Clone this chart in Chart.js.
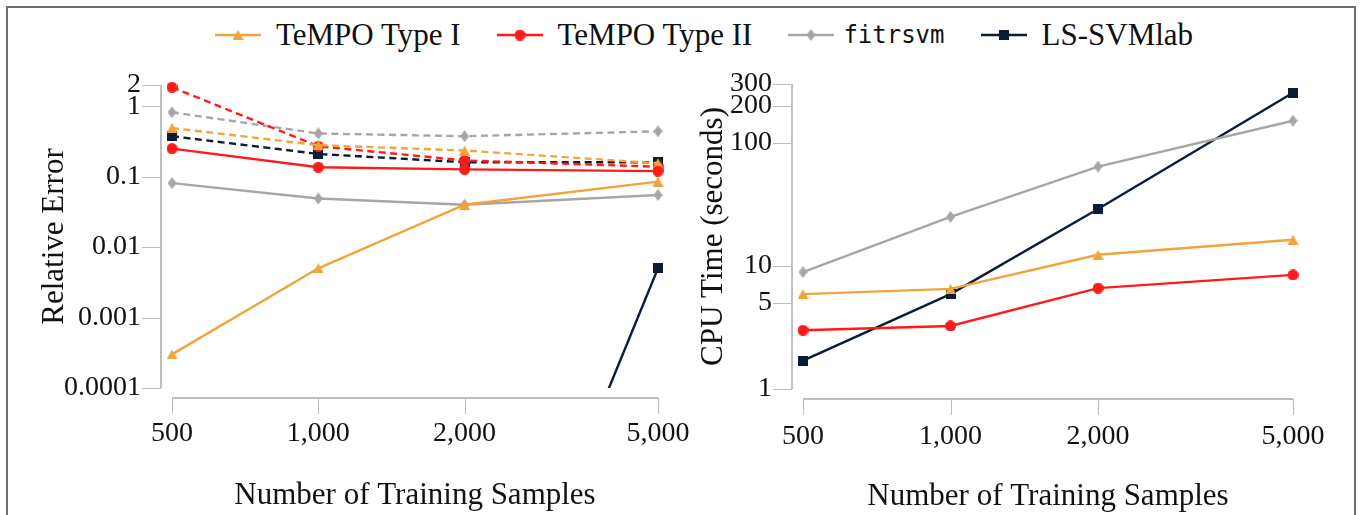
<!DOCTYPE html>
<html>
<head>
<meta charset="utf-8">
<script src="https://cdn.jsdelivr.net/npm/chart.js@4.4.0/dist/chart.umd.min.js"></script>
<style>
    html, body { margin: 0; padding: 0; background: #fff; }
    body { width: 1360px; height: 515px; position: relative; overflow: hidden; }
    #frame {
        position: absolute; left: 6px; top: 6px; width: 1350px; height: 530px;
        border: 2px solid #6e6e6e; border-bottom: none; box-sizing: border-box;
    }
    .panel { position: absolute; top: 0; }
    #legend {
        position: absolute; left: 215px; top: 15px; height: 40px;
        display: flex; align-items: center; white-space: nowrap;
        font-family: 'Liberation Serif', serif; font-size: 31px; color: #111;
    }
    .item { display: flex; align-items: center; margin-right: 36px; }
    .item canvas { margin-right: 15px; }
    .mono { font-family: 'DejaVu Sans Mono', monospace; font-size: 24px; }
</style>
</head>
<body>
<div id="frame"></div>
<div id="legend"></div>
<canvas id="errorChart" class="panel" width="720" height="515" style="left:0"></canvas>
<canvas id="timeChart" class="panel" width="680" height="515" style="left:680px"></canvas>

<script>
// training set sizes (shared x axis)
const sampleSizes = [500, 1000, 2000, 5000];
const sampleLabels = ['500', '1,000', '2,000', '5,000'];

// relative error axis
const errorTicks = [0.0001, 0.001, 0.01, 0.1, 1, 2];
const errorTickLabels = ['0.0001', '0.001', '0.01', '0.1', '1', '2'];

// cpu time axis
const timeTicks = [1, 5, 10, 100, 200, 300];
const timeTickLabels = ['1', '5', '10', '100', '200', '300'];

// relative error: solid = test, dashed = train
const errTempo1 = [0.0003, 0.005, 0.04, 0.085];
const errTempo1Dash = [0.49, 0.28, 0.235, 0.155];
const errTempo2 = [0.25, 0.136, 0.127, 0.12];
const errTempo2Dash = [1.86, 0.27, 0.17, 0.138];
const errFitrsvm = [0.081, 0.049, 0.04, 0.055];
const errFitrsvmDash = [0.82, 0.41, 0.375, 0.44];
const errLssvm = [1e-9, 1e-9, 1e-9, 0.005];
const errLssvmDash = [0.375, 0.21, 0.16, 0.16];

// cpu time (seconds)
const timeTempo1 = [5.9, 6.5, 12.3, 16.3];
const timeTempo2 = [3.0, 3.25, 6.6, 8.45];
const timeFitrsvm = [8.9, 25, 64, 151];
const timeLssvm = [1.7, 5.9, 29, 255];

const colors = {
    orange: '#f0a43a',
    red: '#ff1a1a',
    gray: '#a6a6a6',
    navy: '#0b1c36',
    axis: '#a9a9a9',
    tick: '#bdbdbd',
    text: '#111111'
};

const serif = "'Liberation Serif', serif";

function makeMarker(shape, color) {
    const sizes = { triangle: [11, 10], circle: [11, 11], diamond: [9, 12], square: [10, 10] };
    const [w, h] = sizes[shape];
    const c = document.createElement('canvas');
    c.width = w;
    c.height = h;
    const g = c.getContext('2d');
    g.fillStyle = color;
    g.beginPath();
    if (shape === 'triangle') {
        g.moveTo(w / 2, 0);
        g.lineTo(w, h);
        g.lineTo(0, h);
    } else if (shape === 'circle') {
        g.arc(w / 2, h / 2, w / 2, 0, Math.PI * 2);
    } else if (shape === 'diamond') {
        g.moveTo(w / 2, 0);
        g.lineTo(w, h / 2);
        g.lineTo(w / 2, h);
        g.lineTo(0, h / 2);
    } else {
        g.rect(0, 0, w, h);
    }
    g.closePath();
    g.fill();
    return c;
}

const methods = [
    { name: 'TeMPO Type I', color: colors.orange, marker: makeMarker('triangle', colors.orange) },
    { name: 'TeMPO Type II', color: colors.red, marker: makeMarker('circle', colors.red) },
    { name: 'fitrsvm', color: colors.gray, marker: makeMarker('diamond', colors.gray), mono: true },
    { name: 'LS-SVMlab', color: colors.navy, marker: makeMarker('square', colors.navy) }
];

function buildLegend() {
    const legend = document.getElementById('legend');
    methods.forEach((m) => {
        const item = document.createElement('div');
        item.className = 'item';
        const sample = document.createElement('canvas');
        sample.width = 46;
        sample.height = 24;
        const g = sample.getContext('2d');
        g.strokeStyle = m.color;
        g.lineWidth = 2.4;
        g.beginPath();
        g.moveTo(0, 12);
        g.lineTo(46, 12);
        g.stroke();
        g.drawImage(m.marker, 23 - m.marker.width / 2, 12 - m.marker.height / 2);
        const label = document.createElement('span');
        label.textContent = m.name;
        if (m.mono) {
            label.className = 'mono';
            sample.style.marginRight = '9px';
        }
        item.appendChild(sample);
        item.appendChild(label);
        legend.appendChild(item);
    });
}

function series(method, values, dashed) {
    return {
        data: sampleSizes.map((x, i) => ({ x, y: values[i] })),
        borderColor: method.color,
        backgroundColor: method.color,
        borderWidth: 2.4,
        borderDash: dashed ? [7, 4.5] : [],
        pointStyle: method.marker,
        pointRadius: 6,
        tension: 0,
        fill: false,
        clip: { left: 12, right: 12, top: 12, bottom: 0 }
    };
}

// pgfplots-style detached axes: lines sit a little away from the plot area
const offsetAxes = {
    id: 'offsetAxes',
    beforeDatasetsDraw(chart) {
        const { ctx, chartArea, scales: { x, y } } = chart;
        const axisX = chartArea.left - 11;
        const axisY = chartArea.bottom + 10;
        ctx.save();
        ctx.strokeStyle = colors.axis;
        ctx.lineWidth = 1.5;
        ctx.beginPath();
        ctx.moveTo(axisX, chartArea.top);
        ctx.lineTo(axisX, chartArea.bottom);
        ctx.moveTo(chartArea.left, axisY);
        ctx.lineTo(chartArea.right, axisY);
        ctx.stroke();

        ctx.strokeStyle = colors.tick;
        ctx.lineWidth = 1;
        ctx.beginPath();
        y.ticks.forEach((t) => {
            const py = Math.round(y.getPixelForValue(t.value)) + 0.5;
            ctx.moveTo(axisX - 19, py);
            ctx.lineTo(axisX, py);
        });
        x.ticks.forEach((t) => {
            const px = Math.round(x.getPixelForValue(t.value)) + 0.5;
            ctx.moveTo(px, axisY);
            ctx.lineTo(px, axisY + 16);
        });
        ctx.stroke();
        ctx.restore();
    }
};

function buildChart(canvasId, datasets, cfg) {
    const ctx = document.getElementById(canvasId).getContext('2d');
    return new Chart(ctx, {
        type: 'line',
        data: { datasets },
        plugins: [offsetAxes],
        options: {
            responsive: false,
            animation: false,
            layout: { padding: { top: cfg.top, right: cfg.right, bottom: 0, left: 0 } },
            plugins: {
                legend: { display: false },
                tooltip: { enabled: false }
            },
            scales: {
                x: {
                    type: 'logarithmic',
                    min: 500,
                    max: 5000,
                    grid: { display: false, drawTicks: false },
                    border: { display: false },
                    afterBuildTicks: (scale) => { scale.ticks = sampleSizes.map((v) => ({ value: v })); },
                    afterFit: (scale) => { scale.height = cfg.xHeight; },
                    ticks: {
                        autoSkip: false,
                        maxRotation: 0,
                        padding: cfg.xPad,
                        color: colors.text,
                        font: { family: serif, size: 28 },
                        callback: (value, index) => sampleLabels[index]
                    },
                    title: {
                        display: true,
                        text: 'Number of Training Samples',
                        color: colors.text,
                        font: { family: serif, size: 31 },
                        padding: { top: 0, bottom: cfg.xTitlePad }
                    }
                },
                y: {
                    type: 'logarithmic',
                    min: cfg.yMin,
                    max: cfg.yMax,
                    grid: { display: false, drawTicks: false },
                    border: { display: false },
                    afterBuildTicks: (scale) => { scale.ticks = cfg.yTicks.map((v) => ({ value: v })); },
                    afterFit: (scale) => { scale.width = cfg.yWidth; },
                    ticks: {
                        autoSkip: false,
                        padding: 31,
                        color: colors.text,
                        font: { family: serif, size: 28 },
                        callback: (value, index) => cfg.yTickLabels[index]
                    },
                    title: {
                        display: true,
                        text: cfg.yTitle,
                        color: colors.text,
                        font: { family: serif, size: 31 },
                        padding: { top: cfg.yTitlePad, bottom: 0 }
                    }
                }
            }
        }
    });
}

const [tempo1, tempo2, fitrsvm, lssvm] = methods;

buildLegend();

buildChart('errorChart', [
    series(tempo1, errTempo1, false),
    series(tempo2, errTempo2, false),
    series(fitrsvm, errFitrsvm, false),
    series(lssvm, errLssvm, false),
    series(tempo1, errTempo1Dash, true),
    series(tempo2, errTempo2Dash, true),
    series(fitrsvm, errFitrsvmDash, true),
    series(lssvm, errLssvmDash, true)
], {
    top: 85, right: 62, xHeight: 127, yWidth: 172,
    xPad: 29, xTitlePad: 1, yTitlePad: 36,
    yMin: 0.0001, yMax: 2,
    yTicks: errorTicks, yTickLabels: errorTickLabels,
    yTitle: 'Relative Error'
});

buildChart('timeChart', [
    series(tempo1, timeTempo1, false),
    series(tempo2, timeTempo2, false),
    series(fitrsvm, timeFitrsvm, false),
    series(lssvm, timeLssvm, false)
], {
    top: 84, right: 67, xHeight: 126, yWidth: 123,
    xPad: 31, xTitlePad: 0, yTitlePad: 15,
    yMin: 1, yMax: 300,
    yTicks: timeTicks, yTickLabels: timeTickLabels,
    yTitle: 'CPU Time (seconds)'
});
</script>
</body>
</html>
